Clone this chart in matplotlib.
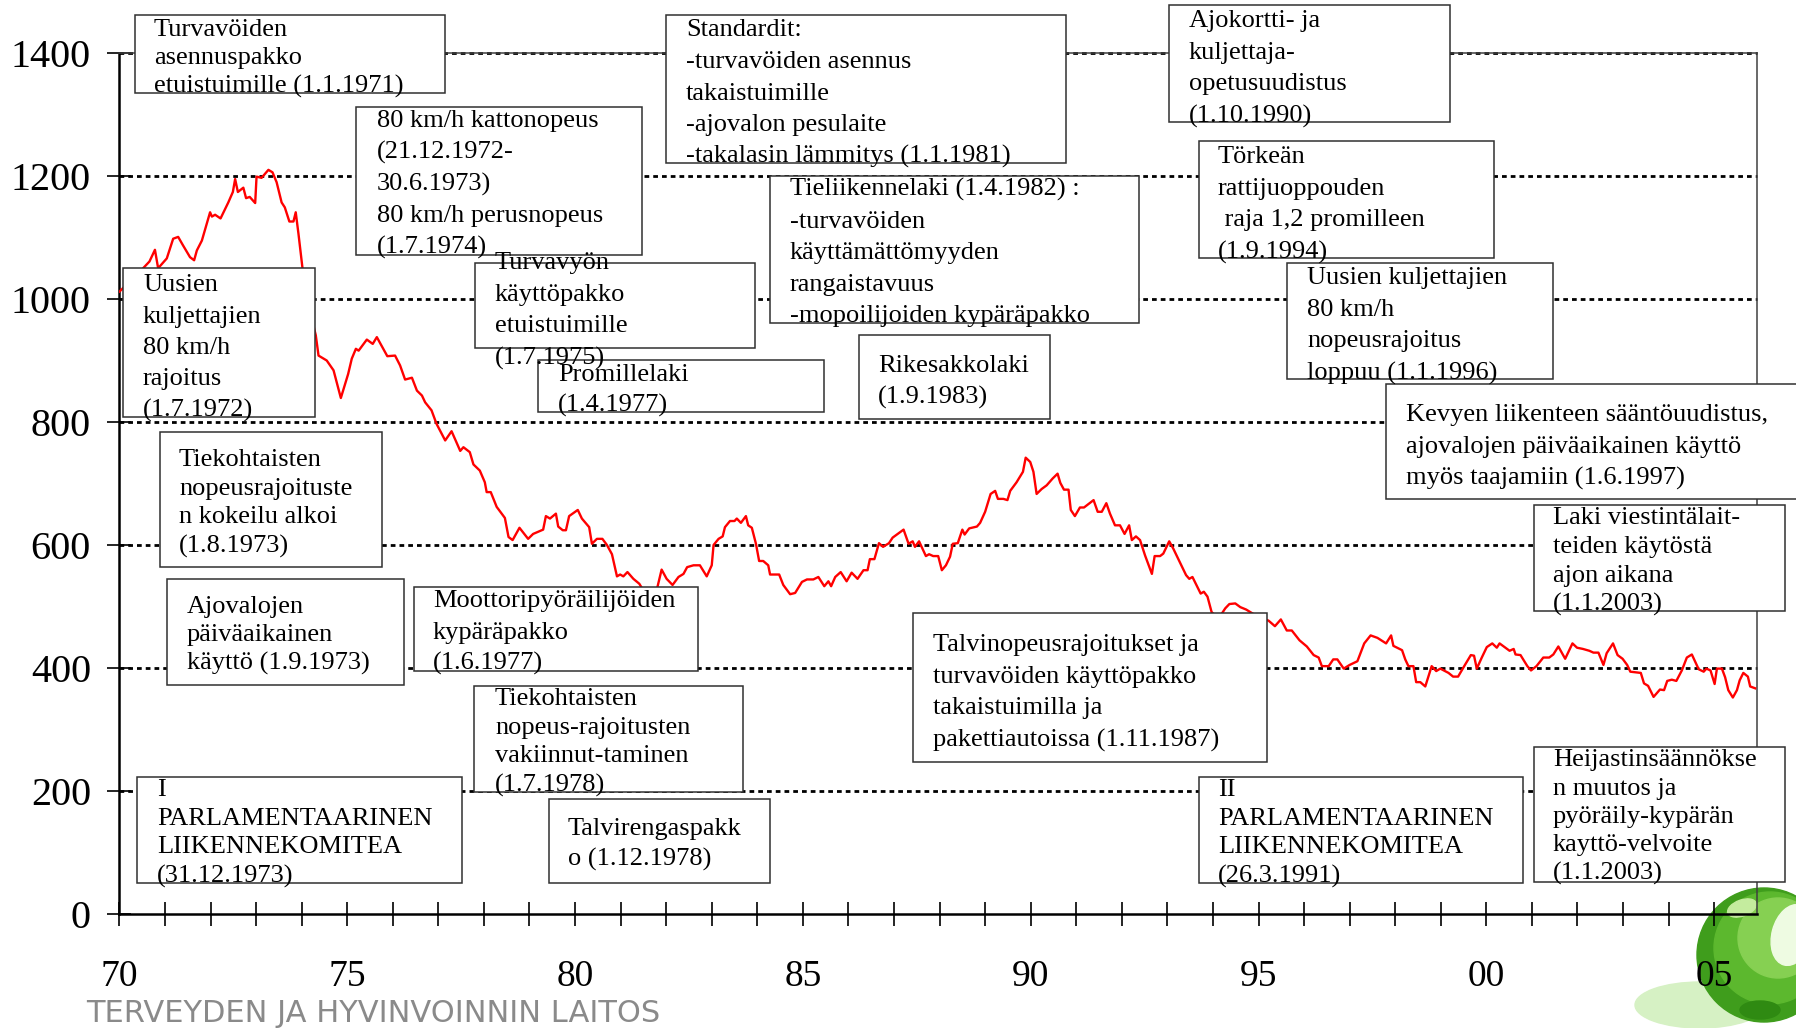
import matplotlib
matplotlib.use("Agg")
import matplotlib.pyplot as plt
from matplotlib.patches import Rectangle, Circle, Ellipse

# Tieliikenteessä kuolleet, 12 kk liukuva summa (luettu kuvasta)
years = [
    1970.00, 1970.25, 1970.52, 1970.66, 1970.78, 1970.85, 1971.04, 1971.18, 1971.29, 1971.39,
    1971.55, 1971.64, 1971.70, 1971.81, 1971.99, 1972.03, 1972.10, 1972.22, 1972.39, 1972.49,
    1972.54, 1972.60, 1972.72, 1972.78, 1972.86, 1972.98, 1973.01, 1973.12, 1973.27, 1973.36,
    1973.45, 1973.56, 1973.63, 1973.73, 1973.82, 1973.87, 1973.93, 1974.02, 1974.15, 1974.31,
    1974.37, 1974.55, 1974.70, 1974.86, 1975.02, 1975.10, 1975.19, 1975.25, 1975.43, 1975.56,
    1975.65, 1975.88, 1976.05, 1976.16, 1976.27, 1976.42, 1976.53, 1976.64, 1976.71, 1976.85,
    1976.96, 1977.15, 1977.29, 1977.48, 1977.55, 1977.69, 1977.77, 1977.91, 1978.02, 1978.06,
    1978.15, 1978.28, 1978.46, 1978.54, 1978.63, 1978.78, 1978.97, 1979.08, 1979.30, 1979.36,
    1979.45, 1979.58, 1979.63, 1979.73, 1979.80, 1979.87, 1980.06, 1980.15, 1980.31, 1980.37,
    1980.48, 1980.60, 1980.70, 1980.81, 1980.92, 1980.99, 1981.06, 1981.15, 1981.28, 1981.41,
    1981.55, 1981.68, 1981.79, 1981.90, 1982.01, 1982.14, 1982.27, 1982.38, 1982.46, 1982.60,
    1982.74, 1982.89, 1983.00, 1983.04, 1983.15, 1983.24, 1983.29, 1983.40, 1983.50, 1983.55,
    1983.64, 1983.75, 1983.80, 1983.88, 1983.97, 1984.04, 1984.13, 1984.24, 1984.28, 1984.48,
    1984.57, 1984.72, 1984.83, 1984.98, 1985.09, 1985.23, 1985.34, 1985.47, 1985.56, 1985.62,
    1985.71, 1985.83, 1985.96, 1986.07, 1986.20, 1986.33, 1986.42, 1986.47, 1986.57, 1986.67,
    1986.76, 1986.89, 1986.97, 1987.08, 1987.21, 1987.32, 1987.41, 1987.46, 1987.55, 1987.70,
    1987.77, 1987.86, 1987.97, 1988.05, 1988.14, 1988.23, 1988.29, 1988.40, 1988.50, 1988.55,
    1988.65, 1988.82, 1988.89, 1989.00, 1989.12, 1989.22, 1989.28, 1989.40, 1989.49, 1989.55,
    1989.69, 1989.83, 1989.89, 1989.99, 1990.06, 1990.13, 1990.24, 1990.35, 1990.48, 1990.59,
    1990.65, 1990.73, 1990.83, 1990.88, 1990.97, 1991.08, 1991.17, 1991.38, 1991.47, 1991.56,
    1991.66, 1991.74, 1991.85, 1991.96, 1992.06, 1992.16, 1992.22, 1992.31, 1992.40, 1992.51,
    1992.66, 1992.72, 1992.84, 1992.91, 1993.04, 1993.13, 1993.41, 1993.48, 1993.55, 1993.73,
    1993.80, 1993.88, 1993.97, 1994.12, 1994.27, 1994.36, 1994.49, 1994.60, 1994.73, 1994.95,
    1995.22, 1995.36, 1995.49, 1995.62, 1995.73, 1995.90, 1996.06, 1996.21, 1996.32, 1996.39,
    1996.54, 1996.64, 1996.73, 1996.87, 1997.00, 1997.17, 1997.32, 1997.46, 1997.61, 1997.80,
    1997.91, 1997.96, 1998.15, 1998.22, 1998.29, 1998.40, 1998.46, 1998.55, 1998.66, 1998.80,
    1998.90, 1998.99, 1999.17, 1999.27, 1999.38, 1999.53, 1999.66, 1999.73, 1999.79, 1999.90,
    2000.01, 2000.13, 2000.23, 2000.29, 2000.51, 2000.60, 2000.64, 2000.75, 2000.90, 2000.98,
    2001.10, 2001.25, 2001.38, 2001.47, 2001.58, 2001.73, 2001.89, 2001.99, 2002.12, 2002.26,
    2002.35, 2002.46, 2002.57, 2002.64, 2002.78, 2002.88, 2002.99, 2003.09, 2003.16, 2003.39,
    2003.46, 2003.55, 2003.67, 2003.81, 2003.90, 2003.97, 2004.07, 2004.17, 2004.29, 2004.40,
    2004.51, 2004.66, 2004.77, 2004.83, 2004.92, 2005.01, 2005.06, 2005.17, 2005.24, 2005.31,
    2005.41, 2005.50, 2005.56, 2005.64, 2005.74, 2005.79, 2005.90,
]
deaths = [
    1012, 1030, 1050, 1061, 1080, 1050, 1066, 1098, 1101, 1088,
    1068, 1063, 1079, 1095, 1141, 1134, 1137, 1131, 1157, 1174,
    1195, 1174, 1181, 1164, 1166, 1156, 1199, 1197, 1210, 1206,
    1190, 1157, 1149, 1126, 1126, 1141, 1106, 1049, 990, 941,
    908, 900, 884, 839, 878, 903, 919, 916, 934, 927,
    938, 907, 908, 892, 869, 872, 851, 843, 832, 819,
    797, 770, 785, 753, 759, 751, 731, 721, 702, 686,
    686, 662, 644, 613, 608, 628, 610, 618, 625, 647,
    643, 651, 630, 624, 624, 647, 657, 643, 629, 602,
    610, 610, 600, 585, 549, 552, 549, 556, 545, 537,
    520, 515, 526, 560, 545, 535, 548, 553, 564, 567,
    567, 549, 567, 600, 610, 614, 629, 639, 639, 643,
    636, 647, 632, 628, 602, 574, 574, 567, 552, 552,
    535, 520, 522, 540, 544, 544, 548, 533, 541, 533,
    548, 556, 541, 555, 545, 559, 559, 577, 577, 603,
    597, 603, 612, 618, 625, 602, 606, 597, 606, 582,
    585, 582, 582, 559, 567, 581, 602, 603, 625, 617,
    627, 630, 636, 654, 683, 688, 675, 675, 673, 688,
    702, 719, 742, 735, 719, 683, 691, 697, 708, 716,
    701, 690, 690, 657, 647, 661, 661, 673, 654, 654,
    668, 651, 632, 632, 618, 632, 608, 614, 608, 583,
    553, 582, 582, 586, 606, 594, 551, 545, 548, 521,
    524, 516, 491, 480, 497, 504, 505, 499, 495, 485,
    477, 468, 479, 461, 461, 445, 435, 421, 417, 403,
    403, 414, 414, 399, 405, 411, 440, 453, 449, 440,
    453, 436, 429, 414, 403, 403, 377, 377, 370, 403,
    395, 399, 392, 386, 386, 405, 421, 420, 399, 417,
    434, 440, 433, 440, 428, 431, 422, 421, 403, 396,
    403, 417, 417, 422, 435, 415, 440, 433, 431, 428,
    425, 425, 405, 424, 440, 421, 415, 405, 394, 392,
    375, 371, 353, 365, 364, 379, 381, 379, 396, 417,
    422, 398, 394, 399, 396, 374, 399, 399, 385, 364,
    352, 364, 380, 392, 386, 370, 367,
]

y_ticks = [0, 200, 400, 600, 800, 1000, 1200, 1400]
x_ticks = list(range(1970, 2006))
x_labels = [f"{y % 100:02d}" if y % 5 == 0 else "" for y in x_ticks]

notes = [
    ["Turvavöiden", "asennuspakko", "etuistuimille (1.1.1971)"],
    ["80 km/h kattonopeus", "(21.12.1972-", "30.6.1973)", "80 km/h perusnopeus", "(1.7.1974)"],
    ["Standardit:", "-turvavöiden asennus", "takaistuimille", "-ajovalon pesulaite",
     "-takalasin lämmitys (1.1.1981)"],
    ["Ajokortti- ja", "kuljettaja-", "opetusuudistus", "(1.10.1990)"],
    ["Törkeän", "rattijuoppouden", " raja 1,2 promilleen", "(1.9.1994)"],
    ["Tieliikennelaki (1.4.1982) :", "-turvavöiden", "käyttämättömyyden", "rangaistavuus",
     "-mopoilijoiden kypäräpakko"],
    ["Turvavyön", "käyttöpakko", "etuistuimille", "(1.7.1975)"],
    ["Uusien", "kuljettajien", "80 km/h", "rajoitus", "(1.7.1972)"],
    ["Promillelaki", "(1.4.1977)"],
    ["Rikesakkolaki", "(1.9.1983)"],
    ["Uusien kuljettajien", "80 km/h", "nopeusrajoitus", "loppuu (1.1.1996)"],
    ["Kevyen liikenteen sääntöuudistus,", "ajovalojen päiväaikainen käyttö",
     "myös taajamiin (1.6.1997)"],
    ["Tiekohtaisten", "nopeusrajoituste", "n kokeilu alkoi", "(1.8.1973)"],
    ["Ajovalojen", "päiväaikainen", "käyttö (1.9.1973)"],
    ["Moottoripyöräilijöiden", "kypäräpakko", "(1.6.1977)"],
    ["Tiekohtaisten", "nopeus-rajoitusten", "vakiinnut-taminen", "(1.7.1978)"],
    ["Talvirengaspakk", "o (1.12.1978)"],
    ["I", "PARLAMENTAARINEN", "LIIKENNEKOMITEA", "(31.12.1973)"],
    ["Talvinopeusrajoitukset ja", "turvavöiden käyttöpakko", "takaistuimilla ja",
     "pakettiautoissa (1.11.1987)"],
    ["II", "PARLAMENTAARINEN", "LIIKENNEKOMITEA", "(26.3.1991)"],
    ["Laki viestintälait-", "teiden käytöstä", "ajon aikana", "(1.1.2003)"],
    ["Heijastinsäännökse", "n muutos ja", "pyöräily-kypärän", "kayttö-velvoite", "(1.1.2003)"],
]

# laatikoiden paikat kuvan pikseleinä: x0, y0, x1, y1, tekstin x, 1. rivin keskikohta, riviväli
note_boxes = [
    (135, 15, 445, 93, 154, 27, 28.3),
    (356, 107, 642, 255, 377, 118, 31.75),
    (666, 15, 1066, 163, 686, 27, 31.75),
    (1169, 5, 1450, 122, 1189, 18, 31.7),
    (1199, 141, 1494, 258, 1218, 154, 31.7),
    (770, 176, 1139, 323, 790, 187, 31.5),
    (475, 263, 755, 348, 495, 260, 31.7),
    (123, 268, 315, 417, 143, 282, 31.5),
    (538, 360, 824, 412, 558, 372, 31.0),
    (859, 335, 1050, 419, 878, 363, 32.0),
    (1287, 263, 1553, 379, 1307, 275, 31.7),
    (1386, 384, 1810, 499, 1406, 412, 32.0),
    (160, 432, 382, 567, 179, 457, 28.7),
    (167, 579, 404, 685, 187, 604, 28.5),
    (414, 587, 698, 671, 433, 598, 31.5),
    (474, 686, 743, 792, 495, 696, 28.7),
    (549, 799, 770, 883, 568, 826, 31.0),
    (137, 777, 462, 883, 157, 787, 28.7),
    (913, 613, 1267, 762, 933, 642, 31.7),
    (1199, 777, 1523, 883, 1218, 787, 28.7),
    (1534, 505, 1785, 611, 1553, 515, 29.0),
    (1534, 747, 1785, 882, 1553, 757, 28.5),
]

W, H = 1796, 1028
plt.rcParams['font.family'] = ['Liberation Serif', 'DejaVu Serif']

fig = plt.figure(figsize=(W / 100, H / 100), dpi=100)

# tausta (vihreä pallo) akselin alle
bg = fig.add_axes([0, 0, 1, 1], zorder=-1)
bg.set_xlim(0, W)
bg.set_ylim(H, 0)
bg.axis('off')
bg.add_patch(Ellipse((1700, 1005), 130, 46, color='#d6f1c4'))
bg.add_patch(Circle((1764, 955), 67, color='#3f9d1c'))
bg.add_patch(Circle((1770, 948), 56, color='#5cb82e'))
bg.add_patch(Circle((1778, 938), 40, color='#86d052'))
bg.add_patch(Ellipse((1742, 908), 30, 16, angle=-20, color='#c4ec9e'))
bg.add_patch(Ellipse((1792, 935), 40, 62, angle=15, color='#eefbe2'))
bg.add_patch(Ellipse((1760, 1010), 40, 18, color='#2f8a12'))

ax = fig.add_axes([119.4 / W, 1 - 914 / H, (1757 - 119.4) / W, (914 - 53) / H], zorder=0)
ax.patch.set_visible(False)

for v in y_ticks[1:]:
    ax.axhline(v, color='black', lw=2.0, ls=(0, (1.7, 1.45)), zorder=2, clip_on=False)

ax.plot(years, deaths, color='#ff0000', lw=1.7, zorder=3)

ax.set_xlim(1970, 2005.94)
ax.set_ylim(0, 1400)
ax.set_yticks(y_ticks)
ax.set_xticks(x_ticks)
ax.set_xticklabels(x_labels)

for side in ['left', 'bottom']:
    ax.spines[side].set_linewidth(1.8)
    ax.spines[side].set_color('black')
for side in ['top', 'right']:
    ax.spines[side].set_linewidth(1.1)
    ax.spines[side].set_color('#404040')

ax.tick_params(direction='inout', length=17, width=1.2, color='black')
ax.tick_params(axis='y', labelsize=29, pad=12)
ax.tick_params(axis='x', labelsize=27, pad=24)

# tapahtumalaatikot päälle
fg = fig.add_axes([0, 0, 1, 1], zorder=1)
fg.set_xlim(0, W)
fg.set_ylim(H, 0)
fg.axis('off')

for lines, (x0, y0, x1, y1, tx, c0, step) in zip(notes, note_boxes):
    fg.add_patch(Rectangle((x0, y0), x1 - x0, y1 - y0, facecolor='white',
                           edgecolor='#303030', lw=1.1, zorder=2, clip_on=False))
    for i, line in enumerate(lines):
        fg.text(tx, c0 + 9 + i * step, line, fontsize=19, ha='left', va='baseline',
                zorder=3, clip_on=False)

fg.text(86, 1022, 'TERVEYDEN JA HYVINVOINNIN LAITOS', color='#8a8a8a', fontsize=22,
        family=['Liberation Sans Narrow', 'DejaVu Sans'], ha='left', va='baseline')

fig.savefig('out.png', dpi=100)
